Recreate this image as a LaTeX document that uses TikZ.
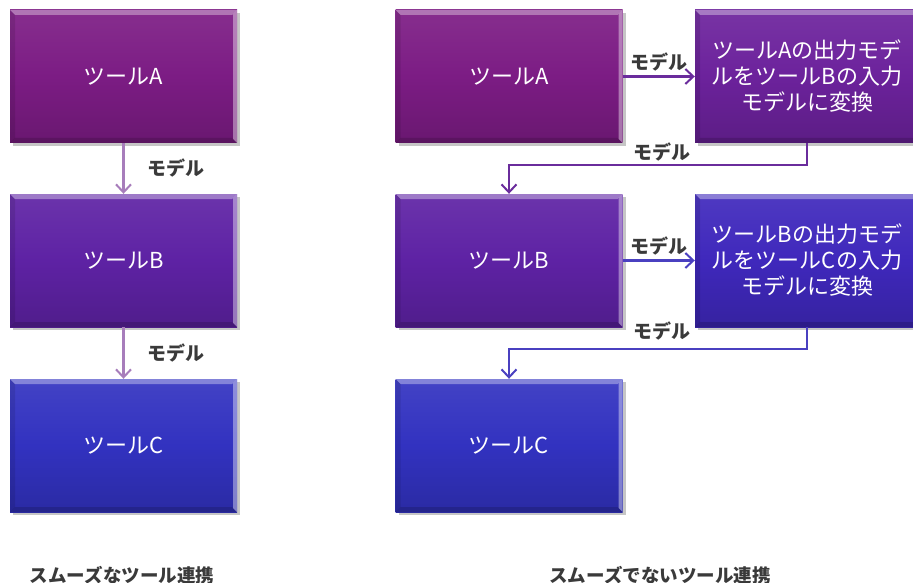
\documentclass[tikz,border=0pt]{standalone}
\usepackage{fontspec}
\setmainfont{Noto Sans CJK JP}
\usetikzlibrary{arrows.meta,shadows,calc}
\definecolor{lblgray}{HTML}{3A3A3A}
\definecolor{arrA}{HTML}{A77DBB}
\definecolor{arrR1}{HTML}{6A2C9C}
\definecolor{arrR2}{HTML}{4A40C0}
\tikzset{
  bevel/.style={path picture={
    \coordinate (bnw) at (path picture bounding box.north west);
    \coordinate (bne) at (path picture bounding box.north east);
    \coordinate (bsw) at (path picture bounding box.south west);
    \coordinate (bse) at (path picture bounding box.south east);
    \fill[white,opacity=0.35] (bnw) -- (bne) -- ([xshift=-5pt,yshift=-5pt]bne) -- ([xshift=5pt,yshift=-5pt]bnw) -- cycle;
    \fill[white,opacity=0.4] (bne) -- (bse) -- ([xshift=-4pt,yshift=4pt]bse) -- ([xshift=-4pt,yshift=-4pt]bne) -- cycle;
    \fill[black,opacity=0.15] (bsw) -- (bse) -- ([xshift=-5pt,yshift=5pt]bse) -- ([xshift=5pt,yshift=5pt]bsw) -- cycle;
    \fill[black,opacity=0.10] (bnw) -- (bsw) -- ([xshift=5pt,yshift=5pt]bsw) -- ([xshift=5pt,yshift=-5pt]bnw) -- cycle;
  }},
  box/.style={rectangle, minimum width=227pt, minimum height=133pt, inner sep=0pt,
    text=white, font=\fontsize{22}{26}\selectfont, align=center, bevel,
    drop shadow={shadow xshift=3pt, shadow yshift=-3pt, opacity=0.45, fill=gray}},
  boxA/.style={box, top color=#1!92!white, bottom color=#1!85!black, middle color=#1},
  lbl/.style={text=lblgray, font=\fontsize{19}{20}\selectfont\bfseries},
  captext/.style={text=lblgray, font=\fontsize{18.5}{20}\selectfont\bfseries},
  arr/.style={line width=2.2pt, -{Straight Barb[length=8pt,width=15pt,line width=2pt]}},
}
\definecolor{cA}{HTML}{7C1C84}
\definecolor{cB}{HTML}{5E22A4}
\definecolor{cC}{HTML}{3232C0}
\definecolor{cX1}{HTML}{6C229C}
\definecolor{cX2}{HTML}{3F28BC}
\begin{document}
\begin{tikzpicture}[x=1pt,y=-1pt]
\useasboundingbox (0,0) rectangle (913,583);
% left column
\node[boxA=cA] (la) at (123.5,76.5) {ツールA};
\node[boxA=cB] (lb) at (123.5,260.5) {ツールB};
\node[boxA=cC] (lc) at (123.5,445.5) {ツールC};
% right column
\node[boxA=cA] (ra) at (509,76.5) {ツールA};
\node[boxA=cB] (rb) at (509,260.5) {ツールB};
\node[boxA=cC] (rc) at (509,445.5) {ツールC};
\node[boxA=cX1, minimum width=224pt] (x1) at (807,76.5) {ツールAの出力モデ\\ルをツールBの入力\\モデルに変換};
\node[boxA=cX2, minimum width=224pt] (x2) at (807,260.5) {ツールBの出力モデ\\ルをツールCの入力\\モデルに変換};
% left arrows
\draw[arr, arrA] (la.south) -- (lb.north) node[midway, right=20pt, lbl] (l1) {モデル};
\draw[arr, arrA] (lb.south) -- (lc.north) node[midway, right=20pt, lbl] (l2) {モデル};
% right arrows
\draw[arr, arrR1] (ra.east) -- (x1.west) node[midway, above=1pt, lbl] (r1) {モデル};
\coordinate (c1) at ($(x1.south)+(0,22)$);
\draw[arr, arrR1] (x1.south) -- (c1) -| (rb.north);
\node[lbl] (r2) at (662,152) {モデル};
\draw[arr, arrR2] (rb.east) -- (x2.west) node[midway, above=1pt, lbl] (r3) {モデル};
\coordinate (c2) at ($(x2.south)+(0,22)$);
\draw[arr, arrR2] (x2.south) -- (c2) -| (rc.north);
\node[lbl] (r4) at (662,331) {モデル};
% captions
\node[captext] (cap1) at (122,575) {スムーズなツール連携};
\node[captext] (cap2) at (660,575) {スムーズでないツール連携};
\end{tikzpicture}
\end{document}
